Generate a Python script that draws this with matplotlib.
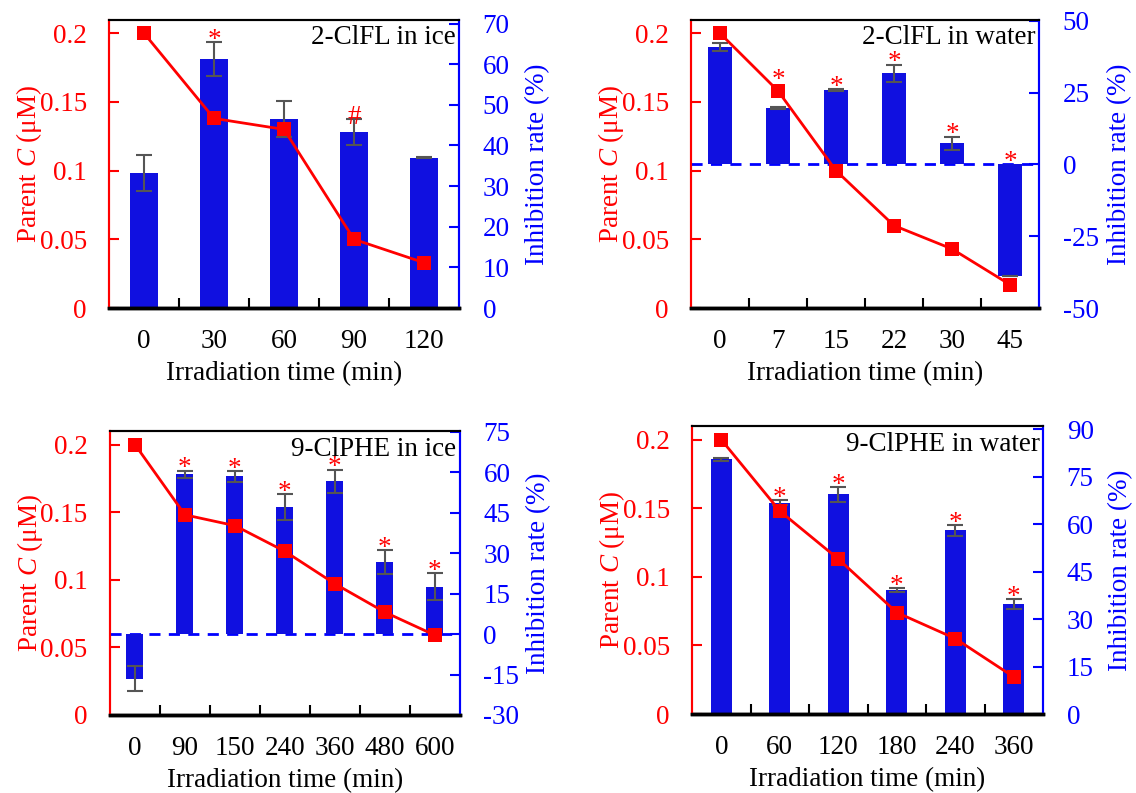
import matplotlib
matplotlib.use('Agg')
import matplotlib.pyplot as plt
import numpy as np

plt.rcParams['font.family'] = 'Liberation Serif'
plt.rcParams['mathtext.fontset'] = 'custom'
plt.rcParams['mathtext.rm'] = 'Liberation Serif'
plt.rcParams['mathtext.it'] = 'Liberation Serif:italic'
plt.rcParams['axes.unicode_minus'] = False

## 2-ClFL in ice
t_fl_ice = ['0', '30', '60', '90', '120']
c_fl_ice = [0.200, 0.138, 0.130, 0.050, 0.033]
inh_fl_ice = [33.2, 61.2, 46.5, 43.4, 37.0]
err_fl_ice = [4.5, 4.2, 4.5, 3.2, 0.2]
mark_fl_ice = ['', '*', '', '#', '']

## 2-ClFL in water
t_fl_w = ['0', '7', '15', '22', '30', '45']
c_fl_w = [0.200, 0.158, 0.100, 0.060, 0.043, 0.017]
inh_fl_w = [40.9, 19.6, 25.9, 31.8, 7.4, -39.0]
err_fl_w = [1.5, 0.3, 0.3, 3.0, 2.3, 0.0]
mark_fl_w = ['', '*', '*', '*', '*', '*']

## 9-ClPHE in ice
t_phe_ice = ['0', '90', '150', '240', '360', '480', '600']
c_phe_ice = [0.200, 0.148, 0.140, 0.121, 0.097, 0.076, 0.059]
inh_phe_ice = [-16.6, 59.2, 58.5, 47.1, 56.6, 26.8, 17.6]
err_phe_ice = [4.6, 1.4, 2.0, 4.9, 4.4, 4.5, 5.0]
mark_phe_ice = ['', '*', '*', '*', '*', '*', '*']

## 9-ClPHE in water
t_phe_w = ['0', '60', '120', '180', '240', '360']
c_phe_w = [0.200, 0.148, 0.113, 0.074, 0.055, 0.027]
inh_phe_w = [80.5, 66.8, 69.4, 39.2, 58.0, 34.8]
err_phe_w = [0.5, 0.7, 2.4, 0.6, 1.7, 1.5]
mark_phe_w = ['', '*', '*', '*', '*', '*']

RED = '#ff0000'
BLUE = '#0000ff'
BAR = '#1010e0'
FS = 19.5
C_MAX = 0.21

fig = plt.figure(figsize=(11.36, 7.93), dpi=100)


def painel(pos, nome, tempos, conc, inib, erro, marcas, lim_dir, ticks_dir, largura,
           zero=False, pos_rotulo=1.19):
    ax = fig.add_axes(pos)
    ax2 = ax.twinx()
    x = np.arange(len(tempos))
    lo, hi = lim_dir

    ## barras de inibição no eixo da direita
    ax2.bar(x, inib, width=largura, color=BAR, zorder=2)
    ax2.errorbar(x, inib, yerr=erro, fmt='none', ecolor='#555555',
                 elinewidth=1.5, capsize=5.5, capthick=1.5, zorder=3)
    for xi, v, e, m, c in zip(x, inib, erro, marcas, conc):
        if m:
            topo = max(v, 0) + e
            # se o marcador vermelho fica logo acima da barra, o símbolo sobe
            r = lo + c / C_MAX * (hi - lo)
            if 0 < r - topo < 10:
                topo = r + 3
            ax2.annotate(m, (xi, topo), xytext=(0, -3.5), textcoords='offset points',
                         ha='center', va='baseline', color=RED, fontsize=FS, zorder=4)
    if zero:
        ax2.axhline(0, color=BLUE, linestyle=(0, (4, 3)), linewidth=2, zorder=1)
    ax2.set_ylim(lo, hi)
    ax2.set_yticks(ticks_dir)
    ax2.set_ylabel('Inhibition rate (%)', color=BLUE, fontsize=FS)
    ax2.yaxis.set_label_coords(pos_rotulo, 0.5)
    ax2.tick_params(axis='y', direction='in', colors=BLUE, labelsize=FS, length=7,
                    width=1.5, pad=17)

    ## concentração do composto parental no eixo da esquerda
    ax.plot(x, conc, color=RED, linewidth=2, marker='s', markersize=10.5,
            markeredgewidth=0, zorder=5)
    ax.set_zorder(ax2.get_zorder() + 1)
    ax.patch.set_visible(False)
    ax.set_ylim(0, C_MAX)
    ax.set_yticks([0, 0.05, 0.1, 0.15, 0.2])
    ax.set_yticklabels(['0', '0.05', '0.1', '0.15', '0.2'])
    ax.set_ylabel('Parent $\\mathit{C}$ (μM)', color=RED, fontsize=FS, labelpad=-3)
    ax.tick_params(axis='y', direction='in', colors=RED, labelsize=FS, length=7,
                   width=1.5, pad=16)

    ax.set_xlim(-0.5, len(tempos) - 0.5)
    ax.set_xticks(x)
    ax.set_xticklabels(tempos)
    ax.set_xticks(x[:-1] + 0.5, minor=True)
    ax.tick_params(axis='x', which='major', length=0, labelsize=FS, pad=15)
    ax.tick_params(axis='x', which='minor', direction='in', length=7, width=1.5, color='black')
    ax.set_xlabel('Irradiation time (min)', fontsize=FS, labelpad=5)

    for a in (ax, ax2):
        a.spines['left'].set_color(RED)
        a.spines['left'].set_linewidth(1.5)
        a.spines['right'].set_color(BLUE)
        a.spines['right'].set_linewidth(1.5)
        a.spines['top'].set_color('black')
        a.spines['top'].set_linewidth(1.5)
        a.spines['bottom'].set_color('black')
        a.spines['bottom'].set_linewidth(2.5)

    ax.text(0.99, 0.98, nome, transform=ax.transAxes, ha='right', va='top',
            fontsize=FS, color='black')


painel([0.0960, 0.6116, 0.3080, 0.3638], '2-ClFL in ice', t_fl_ice, c_fl_ice,
       inh_fl_ice, err_fl_ice, mark_fl_ice, (0, 71), range(0, 71, 10), 0.4)
painel([0.6083, 0.6116, 0.3063, 0.3638], '2-ClFL in water', t_fl_w, c_fl_w,
       inh_fl_w, err_fl_w, mark_fl_w, (-50, 50.5), [-50, -25, 0, 25, 50], 0.4,
       zero=True, pos_rotulo=1.195)
painel([0.0968, 0.0984, 0.3080, 0.3581], '9-ClPHE in ice', t_phe_ice, c_phe_ice,
       inh_phe_ice, err_phe_ice, mark_phe_ice, (-30, 75.3), range(-30, 76, 15), 0.34,
       zero=True)
painel([0.6092, 0.0996, 0.3090, 0.3632], '9-ClPHE in water', t_phe_w, c_phe_w,
       inh_phe_w, err_phe_w, mark_phe_w, (0, 91), range(0, 91, 15), 0.36,
       pos_rotulo=1.185)

fig.savefig('out.png', dpi=100)
